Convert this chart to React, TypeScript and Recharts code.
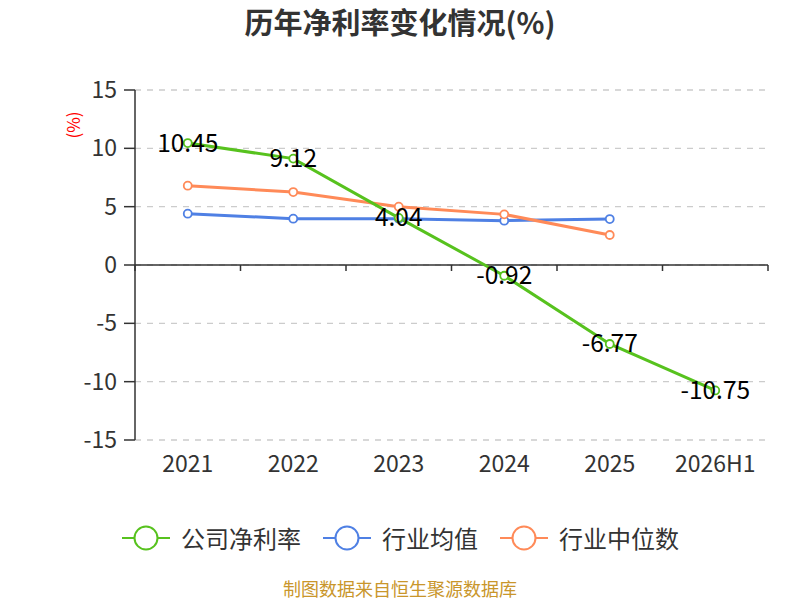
import React from 'react';
import { LineChart, Line, XAxis, YAxis, CartesianGrid, ReferenceLine, LabelList } from 'recharts';

const categories = ['2021', '2022', '2023', '2024', '2025', '2026H1'];
const companyNetMargin = [10.45, 9.12, 4.04, -0.92, -6.77, -10.75];
const industryAverage = [4.4, 3.97, 3.97, 3.8, 3.94, null];
const industryMedian = [6.8, 6.25, 5.0, 4.34, 2.57, null];
const yTicks = [-15, -10, -5, 0, 5, 10, 15];

const seriesInfo = [
  { key: 'company', name: '公司净利率', color: '#57c21e' },
  { key: 'avg', name: '行业均值', color: '#4f80e4' },
  { key: 'median', name: '行业中位数', color: '#ff8a58' },
];

const data = categories.map((c, i) => ({
  cat: c,
  company: companyNetMargin[i],
  avg: industryAverage[i],
  median: industryMedian[i],
}));

const FONT = '"Noto Sans CJK SC", "Noto Sans", sans-serif';

const ValueLabel = (props: any) => {
  const { x, y, value } = props;
  if (value === null || value === undefined) return null;
  return (
    <text x={x} y={y - 2} textAnchor="middle" dominantBaseline="central" fill="#000" fontSize={24.5} fontFamily={FONT}>
      {value}
    </text>
  );
};

const ZeroAxisShape = (props: any) => {
  const { x1, x2, y1 } = props;
  const n = categories.length;
  const step = (x2 - x1) / n;
  const ticks = [];
  for (let i = 0; i <= n; i++) {
    const tx = x1 + step * i;
    ticks.push(<line key={i} x1={tx} x2={tx} y1={y1} y2={y1 + 6} stroke="#333" strokeWidth={1.5} />);
  }
  return (
    <g>
      <line x1={x1} x2={x2} y1={y1} y2={y1} stroke="#333" strokeWidth={1.5} />
      {ticks}
    </g>
  );
};

const LegendBlock = () => (
  <div style={{ position: 'absolute', left: 0, top: 522, width: 800, height: 32, display: 'flex', justifyContent: 'center', alignItems: 'center', fontFamily: FONT, fontSize: 24, color: '#333' }}>
    {seriesInfo.map((s, i) => (
      <div key={s.key} style={{ display: 'flex', alignItems: 'center', marginRight: i < seriesInfo.length - 1 ? 21 : 0 }}>
        <svg width={50} height={28} style={{ marginRight: 10 }}>
          <line x1={1} x2={49} y1={14} y2={14} stroke={s.color} strokeWidth={2} />
          <circle cx={25} cy={14} r={11.5} fill="#fff" stroke={s.color} strokeWidth={2} />
        </svg>
        <span style={{ lineHeight: '28px' }}>{s.name}</span>
      </div>
    ))}
  </div>
);

export default function App() {
  return (
    <div style={{ position: 'absolute', left: 0, top: 0, width: 800, height: 600, background: '#fff', fontFamily: FONT }}>
      <div style={{ position: 'absolute', left: 0, top: 0, width: 800, textAlign: 'center', fontSize: 29, fontWeight: 'bold', color: '#333' }}>
        历年净利率变化情况(%)
      </div>
      <div style={{ position: 'absolute', left: 58, top: 115, width: 30, height: 20, transform: 'rotate(-90deg)', color: 'red', fontSize: 17, textAlign: 'center', lineHeight: '20px' }}>
        (%)
      </div>
      <div style={{ position: 'absolute', left: 0, top: 576, width: 800, textAlign: 'center', fontSize: 18, lineHeight: '24px', color: '#c9962b' }}>
        制图数据来自恒生聚源数据库
      </div>
      <LegendBlock />
      <LineChart width={800} height={600} data={data} margin={{ top: 90, right: 32, bottom: 130, left: 75 }}>
        <CartesianGrid horizontal vertical={false} stroke="#ccc" strokeDasharray="6 6" strokeWidth={1.3} />
        <XAxis
          dataKey="cat"
          scale="band"
          height={30}
          axisLine={false}
          tickLine={false}
          tickSize={0}
          tickMargin={16}
          interval={0}
          tick={{ fill: '#333', fontSize: 23, fontFamily: FONT }}
        />
        <YAxis
          width={60}
          domain={[-15, 15]}
          ticks={yTicks}
          interval={0}
          axisLine={{ stroke: '#333', strokeWidth: 1.5 }}
          tickLine={{ stroke: '#333', strokeWidth: 1.5 }}
          tickSize={11}
          tickMargin={7}
          tick={{ fill: '#333', fontSize: 23, fontFamily: FONT }}
        />
        <ReferenceLine y={0} shape={<ZeroAxisShape />} />
        <Line dataKey="avg" name="行业均值" stroke="#4f80e4" strokeWidth={3} dot={{ r: 4, fill: '#fff', stroke: '#4f80e4', strokeWidth: 1.8 }} isAnimationActive={false} connectNulls={false} />
        <Line dataKey="median" name="行业中位数" stroke="#ff8a58" strokeWidth={3} dot={{ r: 4, fill: '#fff', stroke: '#ff8a58', strokeWidth: 1.8 }} isAnimationActive={false} connectNulls={false} />
        <Line dataKey="company" name="公司净利率" stroke="#57c21e" strokeWidth={3} dot={{ r: 4, fill: '#fff', stroke: '#57c21e', strokeWidth: 1.8 }} isAnimationActive={false}>
          <LabelList dataKey="company" content={<ValueLabel />} />
        </Line>
      </LineChart>
    </div>
  );
}
